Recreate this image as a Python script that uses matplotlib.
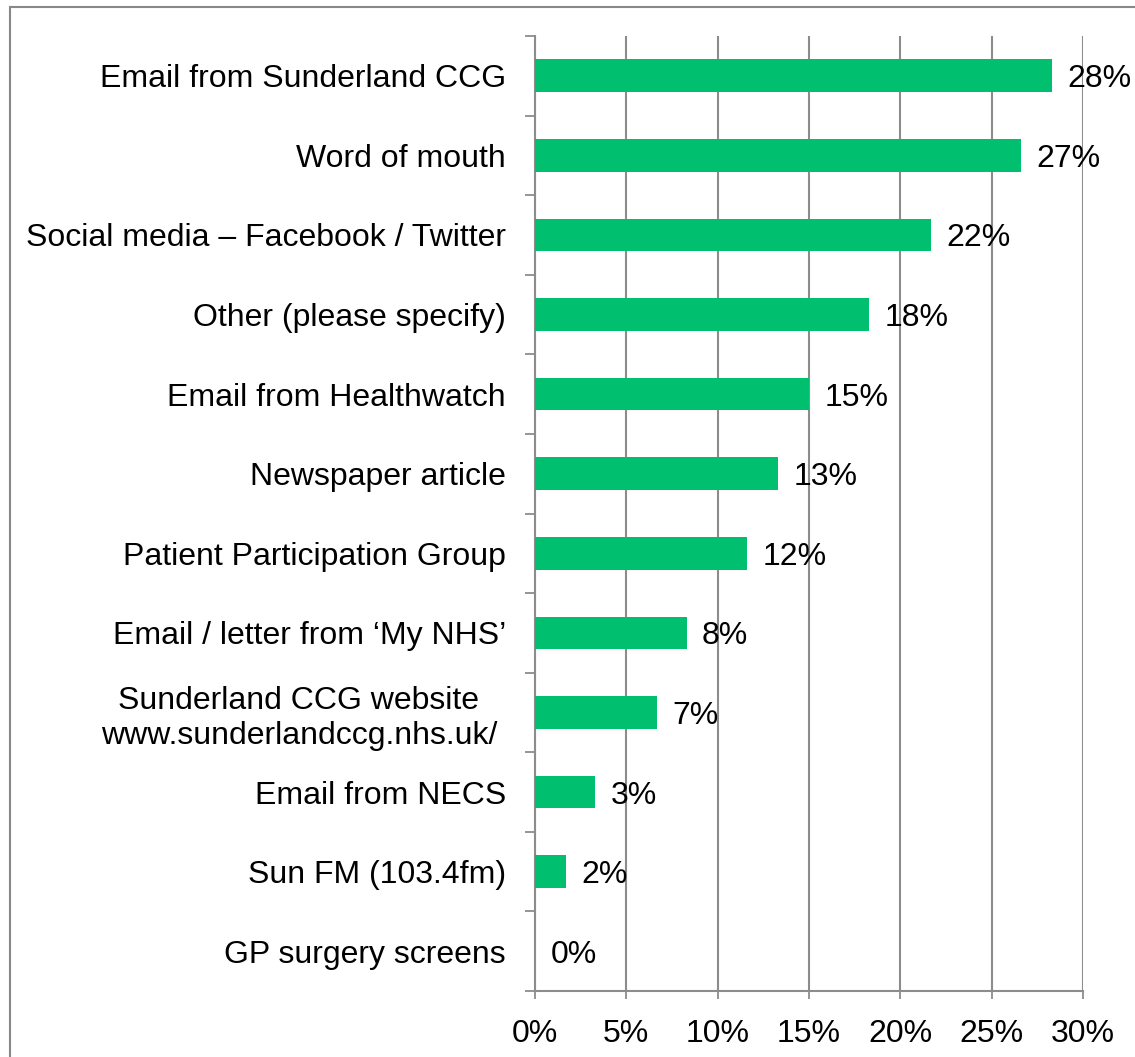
import matplotlib.pyplot as plt
import matplotlib.patches as mpatches
import numpy as np

plt.rcParams['font.family'] = ['Liberation Sans', 'DejaVu Sans']

categories = [
    "Email from Sunderland CCG",
    "Word of mouth",
    "Social media \u2013 Facebook / Twitter",
    "Other (please specify)",
    "Email from Healthwatch",
    "Newspaper article",
    "Patient Participation Group",
    "Email / letter from \u2018My NHS\u2019",
    "Sunderland CCG website \nwww.sunderlandccg.nhs.uk/ ",
    "Email from NECS",
    "Sun FM (103.4fm)",
    "GP surgery screens",
]
values = [28.3, 26.6, 21.7, 18.3, 15.0, 13.3, 11.6, 8.3, 6.7, 3.3, 1.7, 0.0]
value_labels = ["28%", "27%", "22%", "18%", "15%", "13%", "12%", "8%", "7%", "3%", "2%", "0%"]
xticks = [0, 5, 10, 15, 20, 25, 30]

green = "#00BF6F"
grey = "#8C8C8C"
fs = 23

fig = plt.figure(figsize=(11.35, 10.57), dpi=100)
ax = fig.add_axes([535 / 1135, 1 - 991 / 1057, (1083 - 535) / 1135, (991 - 36) / 1057])

y = np.arange(len(categories))
ax.barh(y, values, height=0.41, color=green, zorder=3)
for yi, v, lab in zip(y, values, value_labels):
    ax.annotate(lab, (v, yi), xytext=(11, 0), textcoords="offset points",
                ha="left", va="center_baseline", fontsize=fs, clip_on=False, zorder=4)

ax.set_xlim(0, 30)
ax.set_ylim(len(categories) - 0.5, -0.5)
ax.set_xticks(xticks)
ax.set_xticklabels([f"{t}%" for t in xticks], fontsize=fs)
ax.set_yticks(y)
ax.set_yticklabels(categories, fontsize=fs, multialignment="center")
ax.set_yticks(np.arange(-0.5, len(categories)), minor=True)
ax.tick_params(axis="y", which="major", length=0, pad=21)
ax.tick_params(axis="y", which="minor", length=7, width=1.3, color=grey, direction="out")
ax.tick_params(axis="x", length=6, width=1.3, color=grey, pad=14)

ax.grid(axis="x", color=grey, linewidth=1.5, zorder=0)
for s in ["top", "right"]:
    ax.spines[s].set_visible(False)
for s in ["left", "bottom"]:
    ax.spines[s].set_color(grey)
    ax.spines[s].set_linewidth(1.5)

border = mpatches.Rectangle((10 / 1135, -0.05), 1.1, 1 - 7 / 1057 + 0.05,
                            transform=fig.transFigure, fill=False,
                            edgecolor="#888888", linewidth=1.5)
fig.patches.append(border)

fig.savefig("out.png", dpi=100)
